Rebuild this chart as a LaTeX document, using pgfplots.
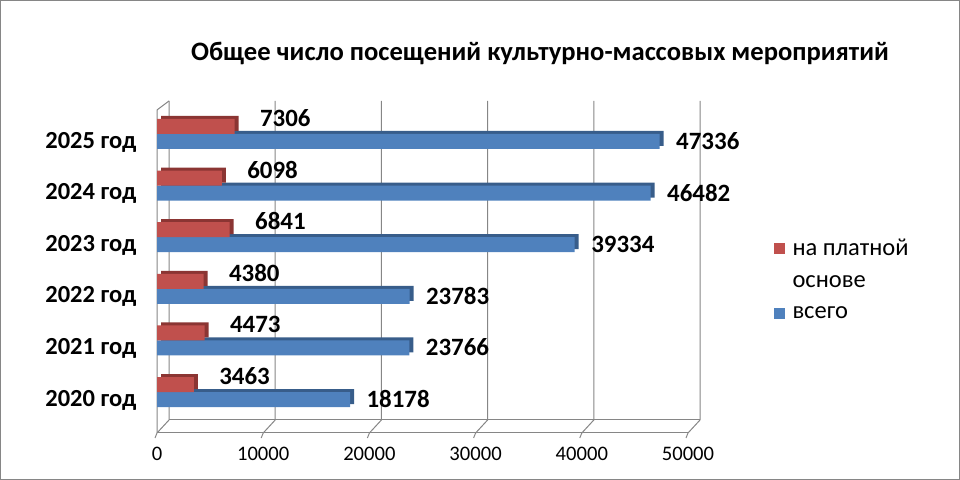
\documentclass[border=0pt]{standalone}
\usepackage{fontspec}
\setmainfont{Carlito}
\usepackage{pgfplots}
\pgfplotsset{compat=1.18}
\definecolor{redbar}{HTML}{C0504D}
\definecolor{redside}{HTML}{8B3533}
\definecolor{bluebar}{HTML}{4F81BD}
\definecolor{blueside}{HTML}{385D8A}
\definecolor{gridc}{HTML}{868686}
\pgfkeys{/pgf/number format/1000 sep={}}
\begin{document}
\begin{tikzpicture}[x=1bp,y=1bp]
\draw[gridc, line width=1bp] (0.5,0.5) rectangle (959.5,479.5);
\node[font=\fontsize{26.7}{32}\selectfont\bfseries] at (540,427) {Общее число посещений культурно-массовых мероприятий};
\begin{axis}[
  at={(157bp,47bp)}, anchor=south west, scale only axis,
  width=531bp, height=333bp,
  xmin=0, xmax=50000, ymin=-0.794, ymax=5.659,
  axis line style={draw=none}, tick style={draw=none},
  clip=false,
  /pgf/number format/assume math mode=true,
  xtick={0,10000,20000,30000,40000,50000}, scaled x ticks=false,
  xticklabel style={font=\fontsize{20.7}{25}\selectfont, yshift=-11bp},
  ytick={0,1,2,3,4,5},
  yticklabels={2020 год,2021 год,2022 год,2023 год,2024 год,2025 год},
  yticklabel style={font=\fontsize{24.6}{29}\selectfont\bfseries, yshift=-8bp, xshift=-17bp},
  bar width=15bp,
  legend image code/.code={\fill[#1] (0bp,-5.5bp) rectangle (11bp,5.5bp);},
  reverse legend,
  legend cell align=left,
  legend style={at={(1.155,0.46)}, anchor=west, draw=none, fill=none,
    font=\fontsize{24.6}{32}\selectfont, nodes={align=left},
    row sep=14bp, column sep=6bp},
]
% floor and walls
\draw[gridc, line width=1bp] (rel axis cs:0,0) -- (rel axis cs:1,0);
\pgfplotsinvokeforeach{0,0.2,0.4,0.6,0.8,1}{
  \draw[gridc, line width=1bp] (rel axis cs:#1,0) -- ([xshift=12bp,yshift=13bp]rel axis cs:#1,0) -- ([xshift=12bp,yshift=-1bp]rel axis cs:#1,1);
  \draw[gridc, line width=1bp] (rel axis cs:#1,0) -- ([xshift=-2bp,yshift=-5bp]rel axis cs:#1,0);
}
\draw[gridc, line width=1bp] ([xshift=12bp,yshift=13bp]rel axis cs:0,0) -- ([xshift=12bp,yshift=13bp]rel axis cs:1,0);
\draw[gridc, line width=1bp] (rel axis cs:0,0) -- ([yshift=-10bp]rel axis cs:0,1) -- ([xshift=12bp,yshift=-1bp]rel axis cs:0,1);
% depth faces
\addplot[xbar, bar shift=-7.5bp, fill=blueside, draw=none, xshift=4bp, yshift=3bp, forget plot]
  coordinates {(18178,0) (23766,1) (23783,2) (39334,3) (46482,4) (47336,5)};
\addplot[xbar, bar shift=-7.5bp, fill=bluebar, draw=none,
  nodes near coords, point meta=x,
  nodes near coords style={anchor=west, xshift=13bp, yshift=-7bp, font=\fontsize{25}{30}\selectfont\bfseries, text=black}]
  coordinates {(18178,0) (23766,1) (23783,2) (39334,3) (46482,4) (47336,5)};
\addlegendentry{всего}
\addplot[xbar, bar shift=7.5bp, fill=redside, draw=none, xshift=4bp, yshift=3bp, forget plot]
  coordinates {(3463,0) (4473,1) (4380,2) (6841,3) (6098,4) (7306,5)};
\addplot[xbar, bar shift=7.5bp, fill=redbar, draw=none,
  nodes near coords, point meta=x,
  nodes near coords style={anchor=west, xshift=22bp, yshift=16bp, font=\fontsize{25}{30}\selectfont\bfseries, text=black},
  legend image post style={yshift=16bp}]
  coordinates {(3463,0) (4473,1) (4380,2) (6841,3) (6098,4) (7306,5)};
\addlegendentry{на платной\\основе}
\end{axis}
\end{tikzpicture}
\end{document}
